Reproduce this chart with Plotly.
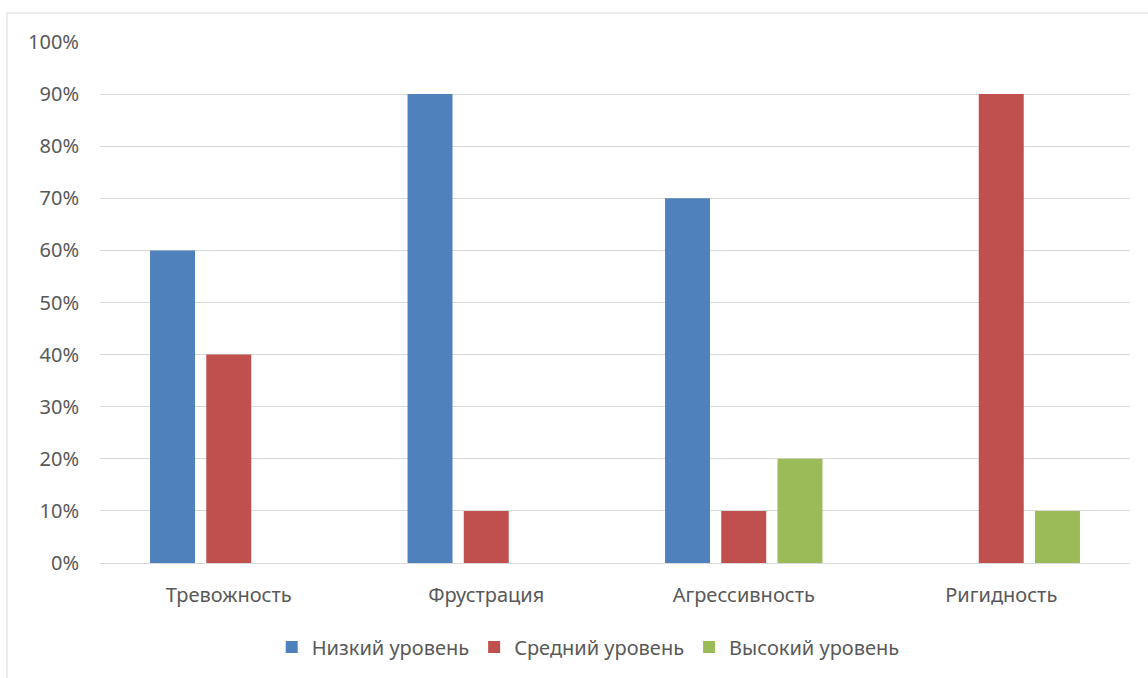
import plotly.graph_objects as go

categories = ["Тревожность", "Фрустрация", "Агрессивность", "Ригидность"]
low = [60, 90, 70, 0]
mid = [40, 10, 10, 90]
high = [0, 0, 20, 10]
series_names = ["Низкий уровень", "Средний уровень", "Высокий уровень"]
colors = ["#4F81BD", "#C0504D", "#9BBB59"]
tick_vals = [0, 10, 20, 30, 40, 50, 60, 70, 80, 90, 100]
tick_text = [f"{v}%" for v in tick_vals]

fig = go.Figure()
for name, vals, c in zip(series_names, [low, mid, high], colors):
    fig.add_trace(go.Bar(x=categories, y=vals, name=name, marker=dict(color=c, line=dict(width=0))))

font_family = "Noto Sans, Open Sans, sans-serif"
fs = 20
fig.update_layout(
    width=1148, height=678,
    margin=dict(l=100, r=18, t=42, b=115),
    paper_bgcolor="white", plot_bgcolor="white",
    barmode="group", bargap=0.345, bargroupgap=0.2,
    font=dict(family=font_family, size=fs, color="#595959"),
    showlegend=True,
    legend=dict(orientation="h", x=0.474, xanchor="center", y=-0.161, yanchor="middle",
                font=dict(size=fs, color="#595959"), itemwidth=30, traceorder="normal"),
    xaxis=dict(showline=False, ticks="", ticklabelstandoff=18,
               tickfont=dict(size=fs, color="#595959")),
    yaxis=dict(range=[0, 100], tickvals=tick_vals, ticktext=tick_text, showgrid=True,
               gridcolor="#D9D9D9", gridwidth=1, zeroline=True, zerolinecolor="#D9D9D9",
               zerolinewidth=1, ticks="", ticklabelstandoff=20,
               tickfont=dict(size=fs, color="#595959")),
    shapes=[
        dict(type="line", xref="paper", yref="paper", x0=-0.0903, x1=1.02, y0=1.0557, y1=1.0557,
             line=dict(color="#D9D9D9", width=1)),
        dict(type="line", xref="paper", yref="paper", x0=-0.0903, x1=-0.0903, y0=1.0557, y1=-0.23,
             line=dict(color="#D9D9D9", width=1)),
    ],
)
fig.write_html("out.html")
